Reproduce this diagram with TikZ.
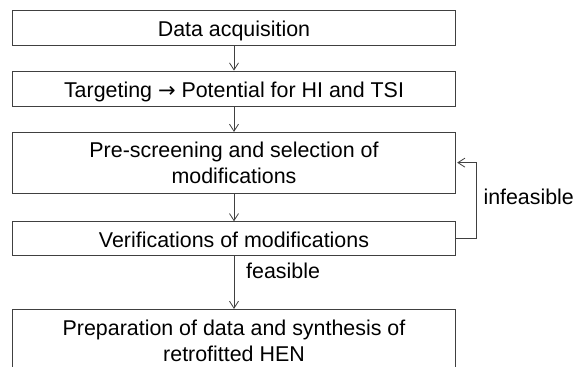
\documentclass[tikz,border=0pt]{standalone}
\usepackage{fontspec}
\setmainfont{Liberation Sans}
\newfontfamily\arrowfont{DejaVu Sans}
\usetikzlibrary{arrows.meta}

\tikzset{
  stage/.style={draw=black!75, line width=0.8pt, minimum width=442.6pt,
    inner sep=0pt, text height=17.6pt, text depth=0pt},
  stagetext/.style={anchor=base, inner sep=0pt},
  flow/.style={draw=black!75, line width=0.8pt,
    -{Straight Barb[length=7pt,width=9pt,line width=0.8pt]}},
  note/.style={anchor=base west, inner sep=0pt}
}

\begin{document}
\begin{tikzpicture}[x=1pt, y=-1pt,
  every node/.append style={font=\fontsize{21.4}{26}\selectfont}]
  \useasboundingbox (0,0) rectangle (574,367);
  \begin{scope}
    \clip (0,0) rectangle (574,367);

    % process stages
    \node[stage, minimum height=34.7pt] (acq) at (234,27.65) {Data acquisition};
    \node[stage, minimum height=35.3pt] (tgt) at (234,88.65)
      {Targeting {\arrowfont\fontsize{21}{26}\selectfont →} Potential for HI and TSI};
    \node[stage, minimum height=60.7pt] (pre) at (234,162.65) {};
    \node[stagetext] (preA) at (234,157.3) {Pre-screening and selection of};
    \node[stagetext] (preB) at (234,183.3) {modifications};
    \node[stage, minimum height=33.6pt] (ver) at (234,238.5) {Verifications of modifications};
    \node[stage, minimum height=61pt] (syn) at (234,339.8) {};
    \node[stagetext] (synA) at (234,335) {Preparation of data and synthesis of};
    \node[stagetext] (synB) at (234,361) {retrofitted HEN};

    % connectors
    \draw[flow] (acq) -- (tgt);
    \draw[flow] (tgt) -- (pre);
    \draw[flow] (pre) -- (ver);
    \draw[flow] (ver) -- (syn);
    \coordinate (loopR) at (476.7,0);
    \draw[flow] (ver.east) -- (ver.east -| loopR) |- ([xshift=1.5pt]pre.east);

    % branch labels
    \node[note] (lblinf) at (483.3,204) {infeasible};
    \node[note] (lblfea) at (246,278) {feasible};
  \end{scope}
\end{tikzpicture}
\end{document}
